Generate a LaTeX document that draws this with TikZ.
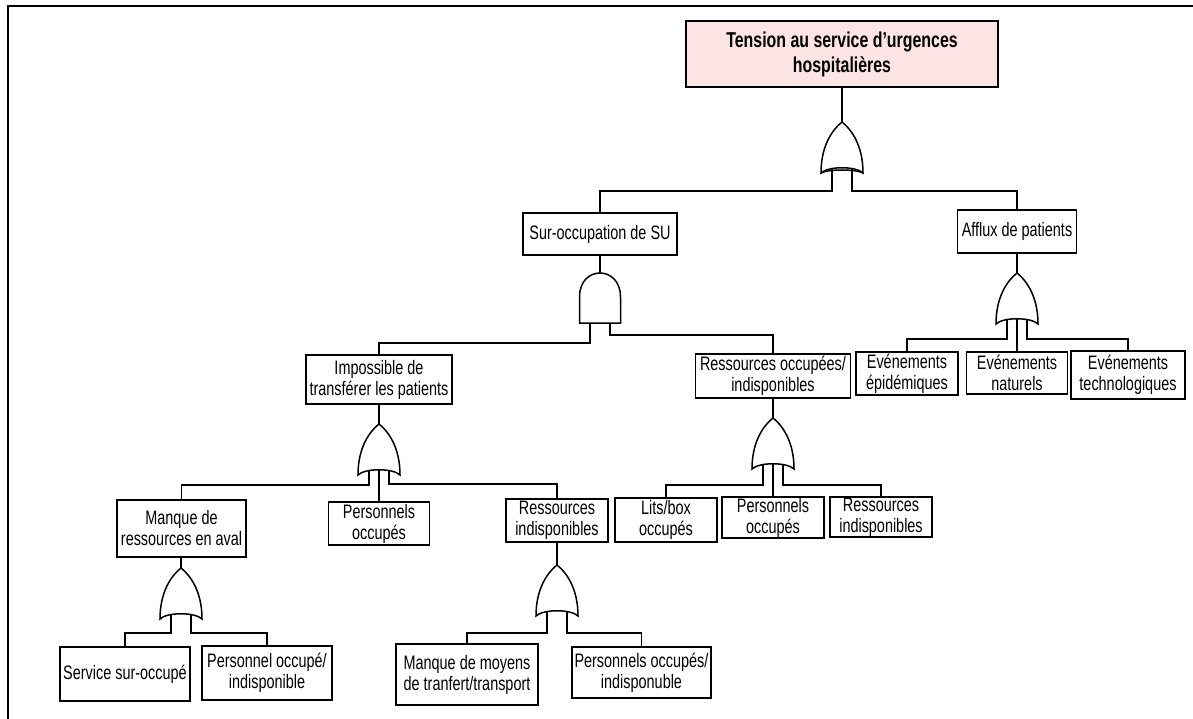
\documentclass[tikz,border=0pt]{standalone}
\usepackage{fontspec}
\setmainfont{Liberation Sans}[FakeStretch=0.74]
\usepackage{tikz}
\usetikzlibrary{positioning}
\definecolor{titlepink}{RGB}{253,228,228}
\tikzset{
  event/.style={draw, line width=1.5pt, align=center, inner sep=1pt,
    font=\fontsize{19.5}{21}\selectfont},
  top event/.style={event, fill=titlepink, font=\bfseries\fontsize{21.5}{25}\selectfont},
  gate/.style={draw, line width=1.5pt, fill=white},
  orgate/.pic={
    \path[gate] (0,0) .. controls (10,8) and (21,24) .. (21,51)
      .. controls (14,44) and (-14,44) .. (-21,51)
      .. controls (-21,24) and (-10,8) .. (0,0) -- cycle;
    \coordinate (-in) at (0,0);
    \coordinate (-l) at (-10,46);
    \coordinate (-m) at (0,45);
    \coordinate (-r) at (10,46);
  },
  orgatedbl/.pic={
    \pic {orgate};
    \draw[line width=1.5pt] (21,51) .. controls (14,47) and (-14,47) .. (-21,51);
    \coordinate (-in) at (0,0);
    \coordinate (-l) at (-10,47);
    \coordinate (-r) at (10,47);
  },
  andgate/.pic={
    \path[gate] (-20.5,50) -- (-20.5,24) .. controls (-20.5,-8) and (20.5,-8) .. (20.5,24)
      -- (20.5,50) -- cycle;
    \coordinate (-in) at (0,0);
    \coordinate (-l) at (-10,50);
    \coordinate (-r) at (10,50);
  }
}

\begin{document}
\begin{tikzpicture}[x=1pt, y=-1pt, line width=1.5pt]
  \useasboundingbox (0,0) rectangle (1193,719);
  \draw[line width=2pt] (1193,6) -- (8,6) -- (8,719);

  \node[top event, minimum width=312pt, minimum height=66pt] (top) at (842,54)
    {Tension au service d’urgences\\hospitalières};
  \node[event, minimum width=154pt, minimum height=42pt] (suroc) at (600,234) {Sur-occupation de SU};
  \node[event, minimum width=119pt, minimum height=43pt] (afflux) at (1017,231.5) {Afflux de patients};
  \node[event, minimum width=146pt, minimum height=49pt] (imposs) at (379,379.5) {Impossible de\\transférer les patients};
  \node[event, minimum width=155pt, minimum height=44pt] (resocc) at (773,376) {Ressources occupées/\\indisponibles};
  \node[event, minimum width=102pt, minimum height=43pt] (epid) at (907,373.5) {Evénements\\épidémiques};
  \node[event, minimum width=101pt, minimum height=42pt] (natur) at (1017,373) {Evénements\\naturels};
  \node[event, minimum width=114pt, minimum height=48pt] (techno) at (1128,375) {Evénements\\technologiques};
  \node[event, minimum width=129pt, minimum height=57pt] (manque) at (181.5,528.5) {Manque de\\ressources en aval};
  \node[event, minimum width=101pt, minimum height=43pt] (persocc) at (379,523.5) {Personnels\\occupés};
  \node[event, minimum width=102pt, minimum height=43pt] (resind) at (557,520.5) {Ressources\\indisponibles};
  \node[event, minimum width=102pt, minimum height=44pt] (lits) at (666,520) {Lits/box\\occupés};
  \node[event, minimum width=102pt, minimum height=41pt] (persbis) at (773,517.5) {Personnels\\occupés};
  \node[event, minimum width=102pt, minimum height=40pt] (resbis) at (881,517) {Ressources\\indisponibles};
  \node[event, minimum width=130pt, minimum height=54pt] (service) at (125,674) {Service sur-occupé};
  \node[event, minimum width=130pt, minimum height=54pt] (persdispo) at (267,673) {Personnel occupé/\\indisponible};
  \node[event, minimum width=142pt, minimum height=61pt] (moyens) at (467,674.5) {Manque de moyens\\de tranfert/transport};
  \node[event, minimum width=139pt, minimum height=51pt] (persindispo) at (641.5,672.5) {Personnels occupés/\\indisponuble};

  \pic (g0) at (842,122) {orgatedbl};
  \pic (g1) at (600,273) {andgate};
  \pic (g2) at (1017,273) {orgate};
  \pic (g3) at (379,424) {orgate};
  \pic (g4) at (773,418) {orgate};
  \pic (g5) at (181,568) {orgate};
  \pic (g6) at (557,565) {orgate};

  \draw (g0-in |- top.south) -- (g0-in);
  \draw (g0-l) -- ++(0,22) -| (suroc.north);
  \draw (g0-r) -- ++(0,22) -| (afflux.north);

  \draw (g1-in |- suroc.south) -- (g1-in);
  \draw (g1-l) -- ++(0,20) -| (imposs.north);
  \draw (g1-r) -- ++(0,12) -| (resocc.north);

  \draw (g2-in |- afflux.south) -- (g2-in);
  \draw (g2-l) -- ++(0,20) -| (epid.north);
  \draw (g2-m) -- (g2-m |- natur.north);
  \draw (g2-r) -- ++(0,20) -| (techno.north);

  \draw (g3-in |- imposs.south) -- (g3-in);
  \draw (g3-l) -- ++(0,15) -| (manque.north);
  \draw (g3-m) -- (g3-m |- persocc.north);
  \draw (g3-r) -- ++(0,14) -| (resind.north);

  \draw (g4-in |- resocc.south) -- (g4-in);
  \draw (g4-l) -- ++(0,21) -| (lits.north);
  \draw (g4-m) -- (g4-m |- persbis.north);
  \draw (g4-r) -- ++(0,21) -| (resbis.north);

  \draw (g5-in |- manque.south) -- (g5-in);
  \draw (g5-l) -- ++(0,19) -| (service.north);
  \draw (g5-r) -- ++(0,19) -| (persdispo.north);

  \draw (g6-in |- resind.south) -- (g6-in);
  \draw (g6-l) -- ++(0,22) -| (moyens.north);
  \draw (g6-r) -- ++(0,22) -| (persindispo.north);
\end{tikzpicture}
\end{document}
